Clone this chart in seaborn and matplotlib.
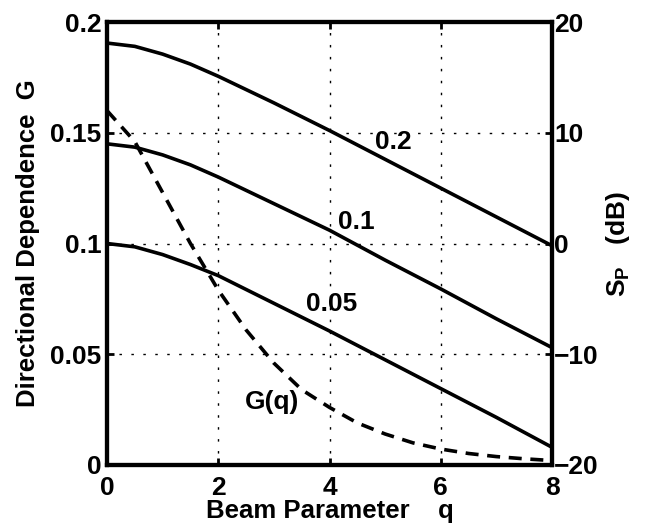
import matplotlib
matplotlib.use("Agg")
import matplotlib.pyplot as plt
import seaborn as sns
import pandas as pd

# ---- data ----
q_solid = [0, 0.5, 1, 1.5, 2, 3, 4, 5, 6, 7, 8]
sp_02 = [18.1, 17.8, 17.1, 16.2, 15.1, 12.7, 10.2, 7.6, 5.0, 2.4, -0.2]
sp_01 = [9.0, 8.7, 8.0, 7.1, 6.0, 3.6, 1.2, -1.5, -4.1, -6.8, -9.4]
sp_005 = [0.0, -0.3, -1.0, -1.9, -2.9, -5.4, -7.9, -10.5, -13.1, -15.7, -18.4]

q_dash = [0, 0.5, 1, 1.5, 2, 2.5, 3, 3.5, 4, 4.5, 5, 5.5, 6, 6.5, 7, 7.5, 8]
g_dash = [0.160, 0.146, 0.123, 0.100, 0.079, 0.061, 0.046, 0.034, 0.026,
          0.019, 0.014, 0.010, 0.0072, 0.0052, 0.0038, 0.0028, 0.002]

x_ticks = [0, 2, 4, 6, 8]
g_ticks = [0, 0.05, 0.1, 0.15, 0.2]
g_ticklabels = ["0", "0.05", "0.1", "0.15", "0.2"]
sp_ticks = [-20, -10, 0, 10, 20]
sp_ticklabels = ["\u221220", "\u221210", "0", "10", "20"]

curve_labels = ["0.2", "0.1", "0.05"]
label_pos_q = [5.14, 4.48, 4.03]
label_pos_sp = [9.2, 1.9, -5.5]

# ---- style ----
sns.set_theme(style="white")
plt.rcParams["font.family"] = ["Liberation Sans", "DejaVu Sans"]
plt.rcParams["font.weight"] = "bold"
plt.rcParams["text.color"] = "black"
plt.rcParams["axes.labelcolor"] = "black"
plt.rcParams["xtick.color"] = "black"
plt.rcParams["ytick.color"] = "black"
plt.rcParams["mathtext.fontset"] = "custom"
plt.rcParams["mathtext.rm"] = "Liberation Sans:bold"
plt.rcParams["mathtext.it"] = "Liberation Sans:bold"
plt.rcParams["mathtext.bf"] = "Liberation Sans:bold"

FS = 19
fig = plt.figure(figsize=(6.48, 5.28), dpi=100)
ax = fig.add_axes([107 / 648, 1 - 465 / 528, (552 - 107) / 648, (465 - 22) / 528])
ax2 = ax.twinx()

df_g = pd.DataFrame({"q": q_dash, "G": g_dash})
sns.lineplot(data=df_g, x="q", y="G", ax=ax, color="black", linewidth=2.6,
             dashes=False, linestyle=(0, (3.6, 2.4)))

df_s = pd.DataFrame({
    "q": q_solid * 3,
    "S": sp_02 + sp_01 + sp_005,
    "c": [curve_labels[0]] * len(q_solid) + [curve_labels[1]] * len(q_solid)
         + [curve_labels[2]] * len(q_solid),
})
sns.lineplot(data=df_s, x="q", y="S", units="c", estimator=None, ax=ax2,
             color="black", linewidth=2.6)

ax.set_xlim(0, 8)
ax.set_ylim(0, 0.2)
ax2.set_ylim(-20, 20)

ax.set_xticks(x_ticks)
ax.set_xticklabels([str(t) for t in x_ticks], fontsize=FS, fontweight="bold")
ax.set_yticks(g_ticks)
ax.set_yticklabels(g_ticklabels, fontsize=FS, fontweight="bold")
ax2.set_yticks(sp_ticks)
ax2.set_yticklabels(sp_ticklabels, fontsize=FS, fontweight="bold")

ax.grid(True, color="black", linewidth=1.0, linestyle=(0, (1.8, 6.8)))
ax.tick_params(axis="both", direction="in", length=5, width=2, color="black",
               top=True, bottom=True, left=True, right=False)
ax.tick_params(axis="x", pad=8)
ax.tick_params(axis="y", pad=4)
ax2.tick_params(axis="y", direction="in", length=5, width=2, color="black",
                right=True, left=False, pad=1.5)

for a in (ax, ax2):
    for s in a.spines.values():
        s.set_linewidth(3.0)
        s.set_color("black")

ax.set_xlabel("Beam Parameter    q", fontsize=18.5, fontweight="bold", labelpad=-1)
ax.set_ylabel("Directional Dependence  G", fontsize=18.5, fontweight="bold", labelpad=7)
ax2.set_ylabel("S$_P$   (dB)", fontsize=19, fontweight="bold", labelpad=4)

for lab, xq, ys in zip(curve_labels, label_pos_q, label_pos_sp):
    ax2.text(xq, ys, lab, fontsize=FS, fontweight="bold", ha="center", va="center")
ax.text(2.97, 0.0284, "G(q)", fontsize=FS, fontweight="bold", ha="center", va="center")

fig.savefig("out.png", dpi=100)
